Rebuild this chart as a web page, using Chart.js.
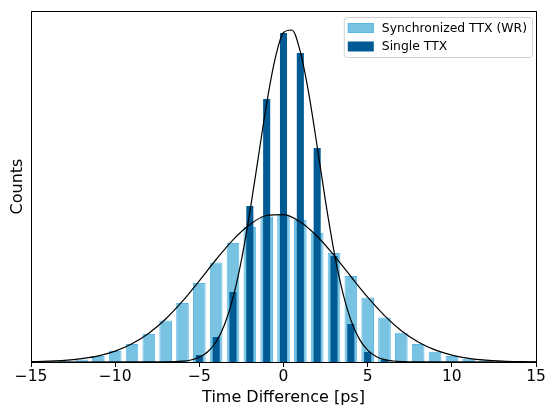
<!DOCTYPE html>
<html>
<head>
<meta charset="utf-8">
<script src="https://cdn.jsdelivr.net/npm/chart.js@4.4.0/dist/chart.umd.min.js"></script>
<style>
  html, body { margin: 0; padding: 0; background: #fff; }
  #wrap { width: 548px; height: 407px; }
</style>
</head>
<body>
<div id="wrap"><canvas id="histChart" width="548" height="407"></canvas></div>
<script>
// histogram bins (ps) and counts
const syncBins = [-13, -12, -11, -10, -9, -8, -7, -6, -5, -4, -3, -2, -1, 0, 1, 2, 3, 4, 5, 6, 7, 8, 9, 10, 11, 12, 13];
const syncCounts = [1, 2.5, 6, 11, 18, 28, 41.5, 59, 79, 99.5, 119, 135, 145.5, 147.5, 142, 129, 109, 86, 64.5, 44.5, 29.3, 18, 10.3, 6, 3.3, 1.7, 0.8];

const singleBins = [-6, -5, -4, -3, -2, -1, 0, 1, 2, 3, 4, 5, 6];
const singleCounts = [0.5, 7, 25, 70, 156, 263, 329, 309, 214, 106, 38, 10, 2.5];

// fitted curves
const syncFitX = [-15, -14, -13, -12, -11, -10, -9, -8, -7, -6, -5, -4, -3, -2, -1, 0, 1, 2, 3, 4, 5, 6, 7, 8, 9, 10, 11, 12, 13, 14, 15];
const syncFitY = [0.35, 0.8, 1.6, 3.3, 6.1, 10.9, 18.2, 28.8, 43, 60.8, 81.2, 102.5, 122.2, 137.6, 146.5, 147.3, 140, 125.7, 106.6, 85.5, 64.8, 46.4, 31.3, 20, 12.1, 6.9, 3.7, 1.9, 0.9, 0.4, 0.2];

const singleFitX = [-15, -8, -7, -6, -5.5, -5, -4.5, -4, -3.5, -3, -2.5, -2, -1.5, -1, -0.5, 0, 0.5, 1, 1.5, 2, 2.5, 3, 3.5, 4, 4.5, 5, 5.5, 6, 6.5, 7, 8, 15];
const singleFitY = [0, 0.05, 0.1, 0.8, 2, 4.7, 10.2, 20.3, 37.5, 64.1, 101.8, 149.9, 204.4, 258.6, 303.1, 329.5, 332, 310.1, 268.6, 215.6, 160.4, 110.7, 70.8, 42, 23.1, 11.8, 5.6, 2.4, 1, 0.4, 0.05, 0];

const xTicks = [-15, -10, -5, 0, 5, 10, 15];

const lightBlue = '#78c3e1';
const lightEdge = '#5cb8e6';
const darkBlue = '#005a93';
const font = 'DejaVu Sans';

function toPoints(xs, ys) {
  return xs.map(function(x, i) { return { x: x, y: ys[i] }; });
}

// caixa em volta do gráfico
const framePlugin = {
  id: 'frame',
  afterDatasetsDraw: function(chart) {
    const a = chart.chartArea;
    const ctx = chart.ctx;
    ctx.save();
    ctx.strokeStyle = '#000';
    ctx.lineWidth = 1;
    ctx.strokeRect(Math.round(a.left) + 0.5, Math.round(a.top) + 0.5,
      Math.round(a.right - a.left), Math.round(a.bottom - a.top));
    ctx.restore();
  }
};

// legenda no canto superior direito
const legendPlugin = {
  id: 'boxLegend',
  afterDraw: function(chart) {
    const a = chart.chartArea;
    const ctx = chart.ctx;
    const items = chart.data.datasets.filter(function(d) { return d.type === 'bar'; });
    ctx.save();
    ctx.font = '12.4px "' + font + '"';
    let textW = 0;
    items.forEach(function(d) { textW = Math.max(textW, ctx.measureText(d.label).width); });
    const boxW = 4 + 26 + 8 + textW + 5;
    const boxH = 40;
    const x0 = a.right - 4 - boxW;
    const y0 = a.top + 6;
    ctx.fillStyle = 'rgba(255,255,255,0.85)';
    ctx.strokeStyle = '#d0d0d0';
    ctx.lineWidth = 1;
    ctx.beginPath();
    ctx.roundRect(x0 + 0.5, y0 + 0.5, boxW, boxH, 3);
    ctx.fill();
    ctx.stroke();
    items.forEach(function(d, i) {
      const cy = y0 + 11 + i * 18.5;
      ctx.fillStyle = d.backgroundColor;
      ctx.fillRect(x0 + 4, cy - 5, 26, 10);
      if (d.borderWidth) {
        ctx.strokeStyle = d.borderColor;
        ctx.strokeRect(x0 + 4.5, cy - 4.5, 25, 9);
      }
      ctx.fillStyle = '#000';
      ctx.textBaseline = 'middle';
      ctx.fillText(d.label, x0 + 38, cy + 0.5);
    });
    ctx.restore();
  }
};

new Chart(document.getElementById('histChart'), {
  data: {
    datasets: [
      {
        type: 'line',
        label: 'fit single',
        data: toPoints(singleFitX, singleFitY),
        borderColor: '#000',
        borderWidth: 1.2,
        pointRadius: 0,
        cubicInterpolationMode: 'monotone',
        order: 0
      },
      {
        type: 'line',
        label: 'fit sync',
        data: toPoints(syncFitX, syncFitY),
        borderColor: '#000',
        borderWidth: 1.2,
        pointRadius: 0,
        cubicInterpolationMode: 'monotone',
        order: 0
      },
      {
        type: 'bar',
        label: 'Synchronized TTX (WR)',
        data: toPoints(syncBins, syncCounts),
        backgroundColor: lightBlue,
        borderColor: lightEdge,
        borderWidth: 1,
        grouped: false,
        barPercentage: 0.75,
        categoryPercentage: 1,
        order: 2
      },
      {
        type: 'bar',
        label: 'Single TTX',
        data: toPoints(singleBins, singleCounts),
        backgroundColor: darkBlue,
        borderWidth: 0,
        grouped: false,
        barPercentage: 0.42,
        categoryPercentage: 1,
        order: 1
      }
    ]
  },
  options: {
    responsive: false,
    animation: false,
    layout: { padding: { top: 11, right: 12, left: 0, bottom: 0 } },
    plugins: {
      legend: { display: false },
      tooltip: { enabled: false }
    },
    scales: {
      x: {
        type: 'linear',
        min: -15,
        max: 15,
        offset: false,
        afterBuildTicks: function(scale) {
          scale.ticks = xTicks.map(function(v) { return { value: v }; });
        },
        afterFit: function(scale) { scale.height = 45; },
        grid: { display: true, offset: false, drawOnChartArea: false, drawTicks: true, tickLength: 5, color: '#000', lineWidth: 1 },
        border: { display: false },
        ticks: {
          padding: 1,
          color: '#000',
          font: { family: font, size: 15.5 },
          maxRotation: 0,
          callback: function(v) { return String(v).replace('-', '\u2212'); }
        },
        title: {
          display: true,
          text: 'Time Difference [ps]',
          color: '#000',
          font: { family: font, size: 16 },
          padding: { top: 0, bottom: 0 }
        }
      },
      y: {
        min: 0,
        max: 351,
        afterFit: function(scale) { scale.width = 31; },
        grid: { display: false },
        border: { display: false },
        ticks: { display: false },
        title: {
          display: true,
          text: 'Counts',
          color: '#000',
          font: { family: font, size: 16 },
          padding: { top: 8, bottom: 0 }
        }
      }
    }
  },
  plugins: [framePlugin, legendPlugin]
});
</script>
</body>
</html>
